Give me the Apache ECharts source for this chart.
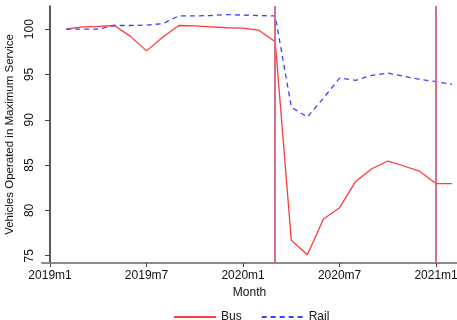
<!DOCTYPE html>
<html>
<head>
<meta charset="utf-8">
<script src="https://cdn.jsdelivr.net/npm/echarts@6/dist/echarts.min.js"></script>
<style>
  html, body { margin: 0; padding: 0; background: #fff; }
  #chart { width: 457px; height: 320px; }
</style>
</head>
<body>
<div id="chart"></div>
<script>
// Monthly periods, 2019m2 .. 2021m2
const months = ['2019m2','2019m3','2019m4','2019m5','2019m6','2019m7','2019m8','2019m9',
  '2019m10','2019m11','2019m12','2020m1','2020m2','2020m3','2020m4','2020m5','2020m6',
  '2020m7','2020m8','2020m9','2020m10','2020m11','2020m12','2021m1','2021m2'];

const bus = [100.0, 100.25, 100.3, 100.4, 99.2, 97.6, 99.1, 100.4, 100.35, 100.25, 100.15,
  100.1, 99.85, 98.6, 76.7, 75.1, 79.05, 80.3, 83.2, 84.6, 85.45, 84.9, 84.3, 82.95, 82.95];

const rail = [100.0, 100.0, 100.0, 100.4, 100.4, 100.45, 100.6, 101.45, 101.45, 101.5, 101.6,
  101.55, 101.5, 101.45, 91.4, 90.3, 92.4, 94.6, 94.35, 94.9, 95.15, 94.8, 94.45, 94.2, 93.9];

const xTickLabels = ['2019m1', '2019m7', '2020m1', '2020m7', '2021m1'];
const yTickValues = [75, 80, 85, 90, 95, 100];
const eventMonths = ['2020m3', '2021m1'];

// months since 2019m1
function monthIndex(s) {
  const [y, m] = s.split('m').map(Number);
  return (y - 2019) * 12 + (m - 1);
}

const xTicks = xTickLabels.map(monthIndex);
const labelByIndex = {};
xTickLabels.forEach(l => { labelByIndex[monthIndex(l)] = l; });

const font = '"Liberation Sans", Arial, sans-serif';
const chart = echarts.init(document.getElementById('chart'));

chart.setOption({
  animation: false,
  grid: { left: 42, right: 0, top: 6, bottom: 57, outerBoundsMode: 'none', containLabel: false },
  xAxis: {
    type: 'value',
    min: -0.5,
    max: 25.3,
    name: 'Month',
    nameLocation: 'middle',
    nameGap: 21,
    nameTextStyle: { fontFamily: font, fontSize: 12, color: '#111' },
    axisLine: { show: true, lineStyle: { color: '#8a8a8a', width: 2 } },
    axisTick: { show: true, customValues: xTicks, length: 4, lineStyle: { color: '#444', width: 1 } },
    axisLabel: {
      customValues: xTicks,
      formatter: v => labelByIndex[v] || '',
      fontFamily: font, fontSize: 12, color: '#111', margin: 7
    },
    splitLine: { show: false }
  },
  yAxis: {
    type: 'value',
    min: 74.2,
    max: 102.55,
    name: 'Vehicles Operated in Maximum Service',
    nameLocation: 'middle',
    nameGap: 18,
    nameTextStyle: { fontFamily: font, fontSize: 11.5, color: '#111' },
    axisLine: { show: true, lineStyle: { color: '#222', width: 1.5 } },
    axisTick: { show: true, customValues: yTickValues, length: 5, lineStyle: { color: '#444', width: 1 } },
    axisLabel: {
      customValues: yTickValues,
      rotate: 90,
      fontFamily: font, fontSize: 12, color: '#111', margin: 6
    },
    splitLine: { show: false }
  },
  legend: {
    top: 306,
    left: 168,
    itemWidth: 42,
    itemHeight: 14,
    itemGap: 19,
    itemStyle: { opacity: 0 },
    textStyle: { fontFamily: font, fontSize: 12, color: '#111' },
    data: ['Bus', 'Rail']
  },
  series: [
    {
      name: 'Bus',
      type: 'line',
      symbol: 'none',
      data: months.map((m, i) => [monthIndex(m), bus[i]]),
      lineStyle: { color: '#ff3a3a', width: 1.3 },
      itemStyle: { color: '#ff3a3a' },
      markLine: {
        silent: true,
        symbol: 'none',
        label: { show: false },
        lineStyle: { color: '#d66e8c', width: 2, type: 'solid' },
        data: eventMonths.map(m => ({ xAxis: monthIndex(m) }))
      },
      z: 3
    },
    {
      name: 'Rail',
      type: 'line',
      symbol: 'none',
      data: months.map((m, i) => [monthIndex(m), rail[i]]),
      lineStyle: { color: '#3f3fff', width: 1.3, type: [5, 4] },
      itemStyle: { color: '#3f3fff' },
      z: 3
    }
  ]
});
</script>
</body>
</html>
